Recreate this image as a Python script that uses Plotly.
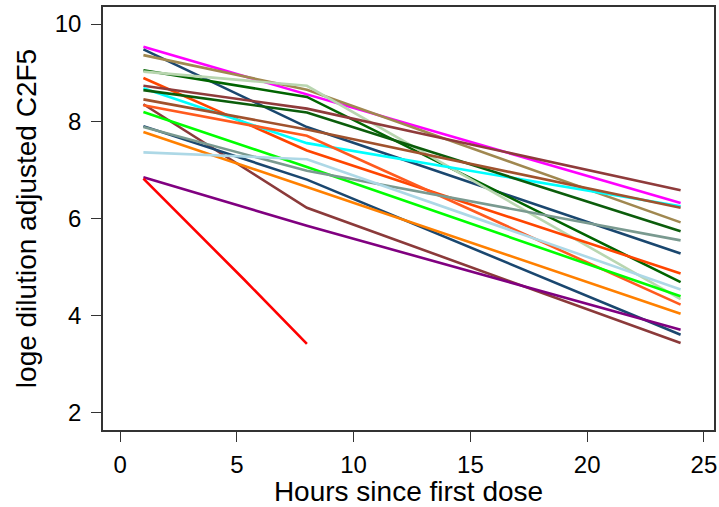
import plotly.graph_objects as go

# Hours at which each subject was sampled
times = [1, 8, 24]

# Subject line colours (one per subject)
colors = ["#FF00FF", "#1A476F", "#A08850", "#006400", "#B9D6B0", "#FF4500",
          "#8F3B3B", "#00FFFF", "#0B5D0B", "#A0522D", "#8B3A3A", "#FF5A1E",
          "#00FF00", "#1A476F", "#7A9A90", "#FF8000", "#ADD8E6", "#800080"]

# loge dilution adjusted C2F5 at 1 h, 8 h and 24 h
vals_1h = [9.53, 9.48, 9.36, 9.05, 9.02, 8.89, 8.73, 8.68, 8.64, 8.45,
           8.35, 8.33, 8.19, 7.90, 7.88, 7.78, 7.36, 6.85]
vals_8h = [8.55, 7.88, 8.65, 8.50, 8.73, 7.40, 8.26, 7.55, 8.18, 7.83,
           6.22, 7.70, 7.06, 6.80, 6.98, 6.65, 7.22, 5.85]
vals_24h = [6.32, 5.28, 5.92, 4.69, 4.34, 4.87, 6.58, 6.25, 5.74, 6.22,
            3.44, 4.23, 4.40, 3.61, 5.55, 4.04, 4.54, 3.71]

# Subject followed only to 8 h
red_times = [1, 5.3, 8]
red_vals = [6.82, 4.75, 3.42]
red_color = "#FF0000"

x_ticks = [0, 5, 10, 15, 20, 25]
y_ticks = [2, 4, 6, 8, 10]

fig = go.Figure()
for c, a, b, d in zip(colors, vals_1h, vals_8h, vals_24h):
    fig.add_trace(go.Scatter(x=times, y=[a, b, d], mode="lines",
                             line=dict(color=c, width=2.6), showlegend=False,
                             hoverinfo="skip"))
fig.add_trace(go.Scatter(x=red_times, y=red_vals, mode="lines",
                         line=dict(color=red_color, width=2.6), showlegend=False,
                         hoverinfo="skip"))

font_family = "Arial, Liberation Sans, sans-serif"
axis_common = dict(ticks="outside", ticklen=10, tickwidth=1.3, tickcolor="#333",
                   showgrid=False, zeroline=False, showline=True,
                   linecolor="#333", linewidth=1.5, mirror=True,
                   automargin=False, tickfont=dict(size=24))
fig.update_layout(
    width=719, height=507,
    margin=dict(l=103, r=5, t=7, b=77),
    paper_bgcolor="white", plot_bgcolor="white",
    font=dict(family=font_family, size=23, color="black"),
    xaxis=dict(range=[-0.73, 25.43], tickvals=x_ticks,
               title=dict(text="Hours since first dose", standoff=17),
               ticklabelstandoff=2, **axis_common),
    yaxis=dict(range=[1.65, 10.35], tickvals=y_ticks,
               title=dict(text="loge dilution adjusted C2F5", standoff=10),
               ticklabelstandoff=5, **axis_common),
)
fig.write_html("out.html",
               config={"displayModeBar": False},
               post_script="document.body.style.margin='0';"
                           "document.body.style.padding='0';")
